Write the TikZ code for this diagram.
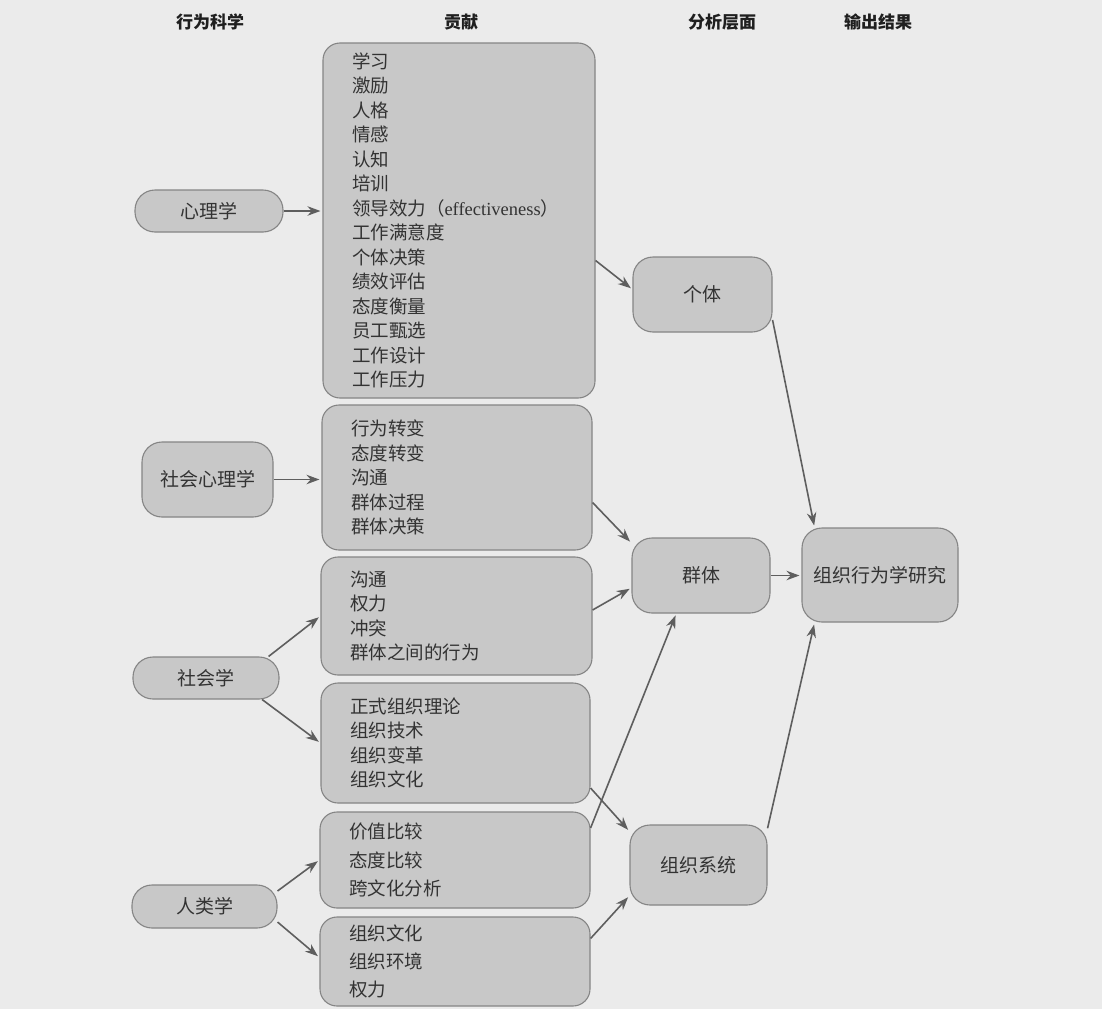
\documentclass[tikz,border=0pt]{standalone}
\usepackage{fontspec}
\setmainfont{Noto Sans CJK SC}
\newfontfamily\latserif{Liberation Serif}
\usetikzlibrary{arrows.meta}
\definecolor{bg}{HTML}{EBEBEB}
\definecolor{boxfill}{HTML}{C8C8C8}
\definecolor{boxline}{HTML}{858585}
\definecolor{txt}{HTML}{333333}
\definecolor{arrowc}{HTML}{5E5E5E}
\begin{document}
\begin{tikzpicture}[x=1pt,y=-1pt,
  every node/.style={text=txt},
  src/.style={draw=boxline, fill=boxfill, line width=1.1pt, rounded corners=20pt, inner sep=0pt, font=\fontsize{19}{19}\selectfont},
  contrib/.style={draw=boxline, fill=boxfill, line width=1.1pt, rounded corners=17pt, inner xsep=29pt, inner ysep=0pt, align=left, font=\fontsize{18.5}{24.5}\selectfont},
  lvl/.style={draw=boxline, fill=boxfill, line width=1.1pt, rounded corners=20pt, inner sep=0pt, font=\fontsize{19}{19}\selectfont},
  hdr/.style={font=\bfseries\fontsize{17}{17}\selectfont, text=black!88},
  arr/.style={draw=arrowc, line width=1.6pt, shorten >=2pt, -{Stealth[length=13pt,width=9.5pt]}}
]
\path[fill=bg] (0,0) rectangle (1102,1009);
\useasboundingbox (0,0) rectangle (1102,1009);

% headers
\node[hdr] (h1) at (210,22) {行为科学};
\node[hdr] (h2) at (461,22) {贡献};
\node[hdr] (h3) at (722,22) {分析层面};
\node[hdr] (h4) at (878,22) {输出结果};

% source disciplines
\node[src, minimum width=148pt, minimum height=42pt] (psy) at (209,211) {心理学};
\node[src, minimum width=131pt, minimum height=75pt] (socpsy) at (207.5,479.5) {社会心理学};
\node[src, minimum width=146pt, minimum height=42pt] (soc) at (206,678) {社会学};
\node[src, minimum width=145pt, minimum height=43pt] (anth) at (204.5,906.5) {人类学};

% contributions
\node[contrib, text width=214pt, minimum height=355pt] (b1) at (459,220.5)
 {学习\\激励\\人格\\情感\\认知\\培训\\领导效力（{\latserif effectiveness}）\\工作满意度\\个体决策\\绩效评估\\态度衡量\\员工甄选\\工作设计\\工作压力};
\node[contrib, text width=212pt, minimum height=145pt] (b2) at (457,477.5)
 {行为转变\\态度转变\\沟通\\群体过程\\群体决策};
\node[contrib, text width=213pt, minimum height=118pt] (b3) at (456.5,616)
 {沟通\\权力\\冲突\\群体之间的行为};
\node[contrib, text width=211pt, minimum height=120pt] (b4) at (455.5,743)
 {正式组织理论\\组织技术\\组织变革\\组织文化};
\node[contrib, text width=212pt, minimum height=96pt, font=\fontsize{18.5}{28.5}\selectfont] (b5) at (455,860)
 {价值比较\\态度比较\\跨文化分析};
\node[contrib, text width=212pt, minimum height=89pt, font=\fontsize{18.5}{28}\selectfont] (b6) at (455,961.5)
 {组织文化\\组织环境\\权力};

% levels
\node[lvl, minimum width=139pt, minimum height=75pt] (ind) at (702.5,294.5) {个体};
\node[lvl, minimum width=138pt, minimum height=75pt] (grp) at (701,575.5) {群体};
\node[lvl, minimum width=137pt, minimum height=80pt] (orgsys) at (698.5,865) {组织系统};
\node[lvl, minimum width=156pt, minimum height=94pt] (ob) at (880,575) {组织行为学研究};

% arrows: disciplines -> contributions
\draw[arr] (psy.east) -- (b1.west |- psy.east);
\draw[arr] (socpsy.east) -- (b2.west |- socpsy.east);
\draw[arr] (soc.19) -- (b3.west);
\draw[arr] (soc.-21) -- (b4.west);
\draw[arr] (anth.12) -- (b5.west);
\draw[arr] (anth.-12) -- ([yshift=4pt]b6.west);

% contributions -> levels
\draw[arr] ([yshift=-40pt]b1.east) -- ([yshift=5pt]ind.west);
\draw[arr] ([yshift=-25pt]b2.east) -- (grp.155);
\draw[arr] ([yshift=6pt]b3.east) -- (grp.190);
\draw[arr] ([yshift=32pt]b5.east) -- (grp.237);
\draw[arr] ([yshift=-45pt]b4.east) -- (orgsys.154);
\draw[arr] ([yshift=23pt]b6.east) -- (orgsys.204);

% levels -> output
\draw[arr] (ind.-20) -- (ob.144);
\draw[arr] (grp.east) -- (ob.west |- grp.east);
\draw[arr] (orgsys.28) -- (ob.216);
\end{tikzpicture}
\end{document}
